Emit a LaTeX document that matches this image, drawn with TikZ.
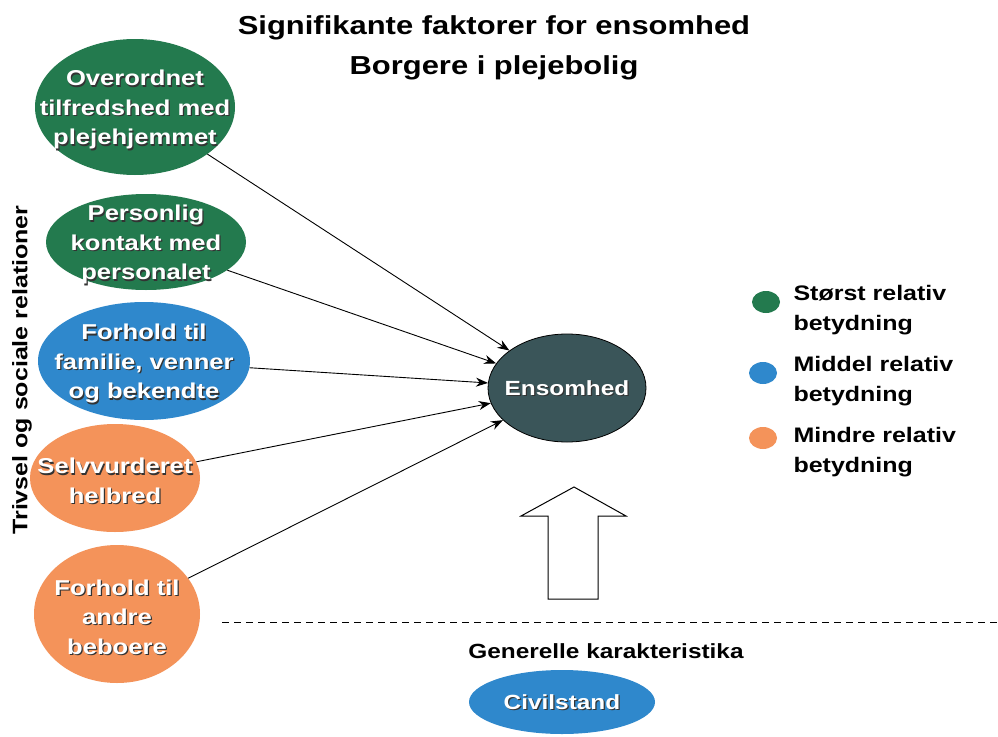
\documentclass[tikz,border=0pt]{standalone}
\usepackage{fontspec}
\setmainfont[FakeStretch=1.19]{Liberation Sans}
\usetikzlibrary{shapes.geometric,arrows.meta}
\definecolor{cgreen}{HTML}{237A4E}
\definecolor{cblue}{HTML}{2F88CC}
\definecolor{corange}{HTML}{F4935A}
\definecolor{cslate}{HTML}{3A5559}
\newcommand\sh[1]{\leavevmode\rlap{\hspace{1.2pt}\raisebox{-1.2pt}{\color{black!80}#1}}#1}
\tikzset{
  oval/.style={ellipse, inner sep=0pt},
  ovtxt/.style={align=center, text=white, inner sep=0pt, yshift=-3.5pt,
     font=\fontsize{21.5}{29.5}\selectfont\bfseries},
  smtxt/.style={align=center, text=white, inner sep=0pt, yshift=-1pt,
     font=\fontsize{20.5}{24}\selectfont\bfseries},
  conn/.style={-{Stealth[length=12pt,width=9pt]}, line width=0.9pt},
  lbl/.style={font=\fontsize{21}{29.5}\selectfont\bfseries, align=left, anchor=west},
  legdot/.style={ellipse, minimum width=28, minimum height=22, inner sep=0pt}
}
\begin{document}
\begin{tikzpicture}[x=1pt,y=-1pt]
\useasboundingbox (0,0) rectangle (998,736);
\fill[white] (0,0) rectangle (998,736);
% title
\node[font=\fontsize{26}{40}\selectfont\bfseries, align=center] (title) at (494,48)
  {Signifikante faktorer for ensomhed\\Borgere i plejebolig};
% vertical label
\node[font=\fontsize{21}{25}\selectfont\bfseries, rotate=90] (trivsel) at (22,370)
  {Trivsel og sociale relationer};
% factor ellipses
\node[oval, fill=cgreen, minimum width=200, minimum height=136,
  label={[ovtxt]center:{\sh{Overordnet}\\\sh{tilfredshed med}\\\sh{plejehjemmet}}}] (e1) at (135,107) {};
\node[oval, fill=cgreen, minimum width=200, minimum height=96,
  label={[ovtxt]center:{\sh{Personlig}\\\sh{kontakt med}\\\sh{personalet}}}] (e2) at (146,242) {};
\node[oval, fill=cblue, minimum width=212, minimum height=118,
  label={[ovtxt]center:{\sh{Forhold til}\\\sh{familie, venner}\\\sh{og bekendte}}}] (e3) at (144,361) {};
\node[oval, fill=corange, minimum width=170, minimum height=108,
  label={[ovtxt]center:{\sh{Selvvurderet}\\\sh{helbred}}}] (e4) at (115,478) {};
\node[oval, fill=corange, minimum width=166, minimum height=138,
  label={[ovtxt]center:{\sh{Forhold til}\\\sh{andre}\\\sh{beboere}}}] (e5) at (117,614) {};
% target
\node[oval, fill=cslate, draw=black, line width=0.8pt, minimum width=158, minimum height=108,
  label={[smtxt]center:{\sh{Ensomhed}}}] (ens) at (567,388) {};
% connectors
\draw[conn] (e1) -- (ens);
\draw[conn] (e2) -- (ens);
\draw[conn] (e3) -- (ens);
\draw[conn] (e4) -- (ens);
\draw[conn] (e5) -- (ens);
% block arrow
\draw[line width=1pt, fill=white] (548,599) -- (548,516) -- (521,516) -- (574,487)
  -- (626,516) -- (598,516) -- (598,599) -- cycle;
% dashed separator
\coordinate (dl) at (222,622);
\coordinate (dr) at (998,622);
\draw[dash pattern=on 7pt off 5pt, line width=1pt] (dl) -- (dr);
\node[font=\fontsize{20.5}{24}\selectfont\bfseries] (gen) at (606,651) {Generelle karakteristika};
\node[oval, fill=cblue, minimum width=186, minimum height=64,
  label={[smtxt]center:{\sh{Civilstand}}}] (civ) at (562,702) {};
% legend
\node[legdot, fill=cgreen] (l1) at (766,302) {};
\node[legdot, fill=cblue] (l2) at (763,373) {};
\node[legdot, fill=corange] (l3) at (763,438) {};
\node[lbl] (t1) at (790,310) {Størst relativ\\betydning};
\node[lbl] (t2) at (790,381) {Middel relativ\\betydning};
\node[lbl] (t3) at (790,452) {Mindre relativ\\betydning};
\end{tikzpicture}
\end{document}
